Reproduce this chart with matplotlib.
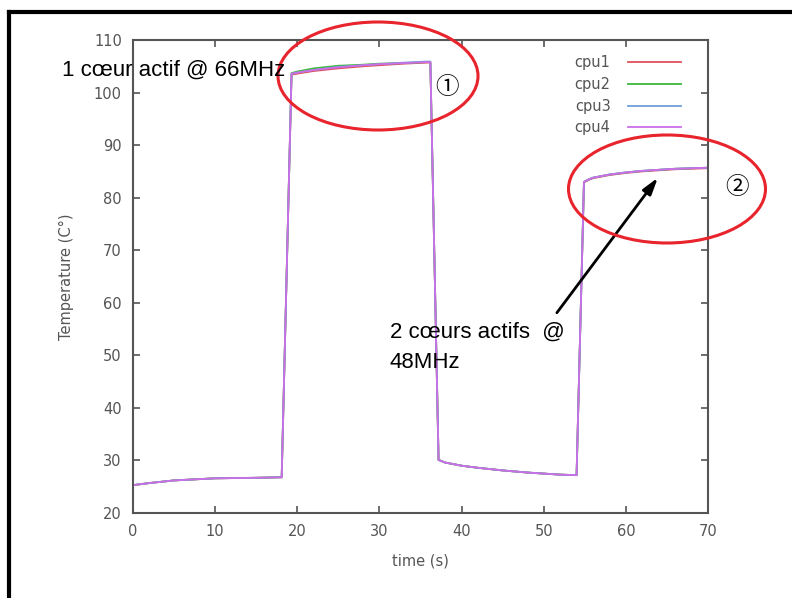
import numpy as np
import matplotlib
matplotlib.use("Agg")
import matplotlib.pyplot as plt
from matplotlib.patches import Ellipse
from matplotlib.lines import Line2D

# temps (s)
time_s = [0, 2, 5, 10, 15, 18.1, 19.3, 20, 22, 25, 28, 30, 33, 35.8, 36.2, 37.2,
          38, 40, 42, 45, 48, 50, 52, 54.0, 54.9, 55.5, 56, 57, 58, 60, 62, 64,
          66, 68, 70]

cpu1 = [25.3, 25.7, 26.2, 26.6, 26.7, 26.8, 103.4, 103.6, 104.1, 104.6, 105.0,
        105.2, 105.5, 105.7, 105.7, 30.1, 29.6, 29.0, 28.6, 28.1, 27.7, 27.5,
        27.3, 27.2, 82.9, 83.4, 83.7, 84.0, 84.3, 84.7, 85.0, 85.2, 85.4, 85.5,
        85.6]
cpu2 = [25.3, 25.7, 26.2, 26.6, 26.7, 26.8, 103.7, 104.0, 104.6, 105.1, 105.3,
        105.5, 105.6, 105.8, 105.8, 30.1, 29.6, 29.0, 28.6, 28.1, 27.7, 27.5,
        27.3, 27.2, 83.0, 83.5, 83.8, 84.1, 84.4, 84.8, 85.1, 85.3, 85.5, 85.6,
        85.7]
cpu3 = [25.3, 25.7, 26.2, 26.6, 26.7, 26.8, 103.5, 103.8, 104.3, 104.9, 105.2,
        105.4, 105.7, 105.9, 105.9, 30.1, 29.6, 29.0, 28.6, 28.1, 27.7, 27.5,
        27.3, 27.2, 83.0, 83.5, 83.8, 84.1, 84.4, 84.8, 85.1, 85.3, 85.5, 85.6,
        85.7]
cpu4 = [25.3, 25.7, 26.2, 26.6, 26.7, 26.8, 103.6, 103.8, 104.3, 104.8, 105.2,
        105.4, 105.6, 105.8, 105.8, 30.1, 29.6, 29.0, 28.6, 28.1, 27.7, 27.5,
        27.3, 27.2, 83.0, 83.5, 83.8, 84.1, 84.4, 84.8, 85.1, 85.3, 85.5, 85.6,
        85.7]

series = [("cpu1", cpu1, "#e0505a"), ("cpu2", cpu2, "#3cb83c"),
          ("cpu3", cpu3, "#6f9fd8"), ("cpu4", cpu4, "#cc6ee8")]

x_ticks = [0, 10, 20, 30, 40, 50, 60, 70]
y_ticks = [20, 30, 40, 50, 60, 70, 80, 90, 100, 110]

W, H = 792, 598
fig = plt.figure(figsize=(W / 100, H / 100), dpi=100)
ax = fig.add_axes([133 / W, 1 - 513 / H, (708 - 133) / W, (513 - 40) / H])

for name, vals, col in series:
    ax.plot(time_s, vals, color=col, lw=1.3, label=name)

ax.set_xlim(0, 70)
ax.set_ylim(20, 110)
ax.set_xticks(x_ticks)
ax.set_yticks(y_ticks)
grey = "#555555"
for s in ax.spines.values():
    s.set_color(grey)
    s.set_linewidth(1.5)
ax.tick_params(direction="in", top=True, right=True, length=5, width=1.2,
               color=grey, labelcolor=grey, labelsize=10.5, pad=8)
ax.set_xlabel("time (s)", color=grey, fontsize=10.5, labelpad=10)
ax.set_ylabel("Temperature (C°)", color=grey, fontsize=10.5, labelpad=14)

leg = ax.legend(loc="upper right", bbox_to_anchor=(0.975, 0.995),
                markerfirst=False, frameon=False, handlelength=3.6,
                labelspacing=0.45, fontsize=10.5, labelcolor=grey,
                handletextpad=1.2)

# annotations
txt_font = ["Liberation Sans", "DejaVu Sans"]
fig.text(62 / W, 1 - 70 / H, "1 cœur actif @ 66MHz", family=txt_font,
         fontsize=16, va="center", ha="left", color="black")
fig.text(390 / W, 1 - 332 / H, "2 cœurs actifs  @", family=txt_font,
         fontsize=16, va="center", ha="left", color="black")
fig.text(390 / W, 1 - 363 / H, "48MHz", family=txt_font,
         fontsize=16, va="center", ha="left", color="black")

circ_font = ["Noto Sans CJK JP", "DejaVu Sans"]
fig.text(447 / W, 1 - 87 / H, "①", family=circ_font, fontsize=17,
         ha="center", va="center")
fig.text(737 / W, 1 - 187 / H, "②", family=circ_font, fontsize=17,
         ha="center", va="center")

for cx, cy, ew, eh in [(378, 76, 200, 108), (667, 189, 197, 108)]:
    fig.add_artist(Ellipse((cx / W, 1 - cy / H), ew / W, eh / H,
                           transform=fig.transFigure, fill=False,
                           edgecolor="#e8242c", lw=2.2))

ax.annotate("", xy=(63.9, 83.8), xytext=(51.6, 58.1),
            arrowprops=dict(arrowstyle="-|>,head_length=1.0,head_width=0.3",
                            color="black", lw=2, shrinkA=0, shrinkB=0))

# cadre de la capture
fig.add_artist(Line2D([9 / W, 1], [1 - 12 / H, 1 - 12 / H],
                      transform=fig.transFigure, color="black", lw=3))
fig.add_artist(Line2D([9 / W, 9 / W], [0, 1 - 12 / H],
                      transform=fig.transFigure, color="black", lw=3))

fig.savefig("out.png", dpi=100)
